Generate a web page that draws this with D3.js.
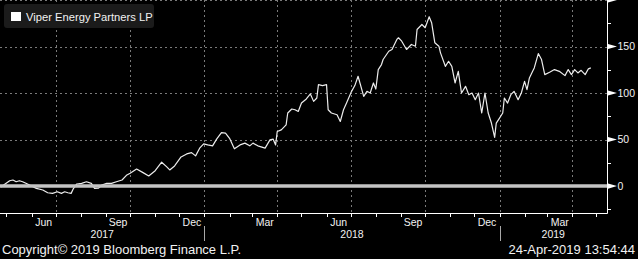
<!DOCTYPE html>
<html>
<head>
<meta charset="utf-8">
<script src="https://cdn.jsdelivr.net/npm/d3@7"></script>
<style>
html,body{margin:0;padding:0;background:#000;}
svg{display:block;}
text{font-family:"Liberation Sans",Arial,sans-serif;fill:#f2f2f2;}
</style>
</head>
<body>
<svg id="chart" width="638" height="259"></svg>
<script>
// ---- data ----
const seriesName = "Viper Energy Partners LP";
const dates2017 = ["2017-04-24","2017-05-05","2017-05-09","2017-05-13","2017-05-17","2017-05-21","2017-05-25","2017-06-07","2017-06-15","2017-06-21","2017-06-27","2017-07-03","2017-07-08","2017-07-12","2017-07-16","2017-07-20","2017-07-23","2017-07-27","2017-08-02","2017-08-08","2017-08-14","2017-08-18","2017-08-23","2017-08-27","2017-09-02","2017-09-08","2017-09-14","2017-09-21","2017-09-27","2017-10-01","2017-10-09","2017-10-17","2017-10-24","2017-11-01","2017-11-09","2017-11-15","2017-11-19","2017-11-25","2017-12-03","2017-12-10","2017-12-16","2017-12-21","2017-12-26","2017-12-31"];
const values2017 = [-1,5.7,6.5,4.6,5.7,4.6,2.9,-2.5,-4.3,-7.2,-7.9,-6.2,-7.9,-6.2,-7.2,-7.9,-2.5,2.2,2.9,4.6,2.9,-2.5,-2.2,1.1,2.9,2.9,4.6,6.5,11.9,13.7,18.3,14.4,10.8,16.5,25.6,20.8,17.3,21.6,31.3,34.5,35.9,32.4,40.7,45.3];
const dates2018 = ["2018-01-05","2018-01-11","2018-01-16","2018-01-22","2018-01-27","2018-02-01","2018-02-07","2018-02-14","2018-02-20","2018-02-26","2018-03-02","2018-03-08","2018-03-17","2018-03-23","2018-03-27","2018-03-30","2018-04-01","2018-04-06","2018-04-12","2018-04-14","2018-04-19","2018-04-23","2018-04-27","2018-05-01","2018-05-07","2018-05-12","2018-05-16","2018-05-20","2018-05-22","2018-05-27","2018-06-01","2018-06-03","2018-06-07","2018-06-14","2018-06-18","2018-06-22","2018-06-26","2018-07-02","2018-07-06","2018-07-10","2018-07-17","2018-07-21","2018-07-25","2018-07-29","2018-08-01","2018-08-04","2018-08-08","2018-08-10","2018-08-17","2018-08-21","2018-08-27","2018-08-29","2018-09-02","2018-09-08","2018-09-14","2018-09-19","2018-09-21","2018-09-27","2018-10-01","2018-10-06","2018-10-09","2018-10-13","2018-10-18","2018-10-20","2018-10-26","2018-10-30","2018-11-03","2018-11-07","2018-11-11","2018-11-15","2018-11-20","2018-11-24","2018-11-28","2018-12-02","2018-12-06","2018-12-10","2018-12-14","2018-12-18","2018-12-22","2018-12-26","2018-12-28"];
const values2018 = [44.2,43.2,50.4,57.5,56.9,51.3,40,44.2,46.1,43.2,46.1,43.2,40.7,49.6,50.4,44.2,58.6,60.4,65.8,78.5,82.8,82,80.2,89.2,93.6,99,91,94.6,109,108,109,82,78.5,76.6,69.4,82,89.9,101.8,108,118,96.4,101.8,100,110.8,104.3,125.2,130.6,136,144.9,146.8,157.6,159.4,155.7,146.8,152.2,150.3,168.3,173.7,170.2,182,175.6,154,150.3,143.2,128.7,134.1,128.7,110.8,123.3,100,107.2,98.2,100,92.8,100,78.5,100,78.5,67.7,52.3,67.7];
const dates2019 = ["2019-01-01","2019-01-05","2019-01-07","2019-01-11","2019-01-15","2019-01-19","2019-01-24","2019-01-28","2019-02-01","2019-02-04","2019-02-07","2019-02-11","2019-02-13","2019-02-18","2019-02-22","2019-02-26","2019-03-04","2019-03-10","2019-03-16","2019-03-23","2019-03-27","2019-03-31","2019-04-04","2019-04-08","2019-04-12","2019-04-17","2019-04-21","2019-04-24"];
const values2019 = [73,78.5,94.6,89.2,98.2,101.8,92.8,100,112.5,103.6,116.2,123.3,127,142.4,136,119.8,122.3,125.2,123.3,118.7,125.2,119.8,125.2,121.6,124.4,119.8,126,127];

const yMajorTicks = [0, 50, 100, 150, 200];
const yLabelTicks = [0, 50, 100, 150];
const yMinorTicks = [-25, 25, 75, 125, 175];
const labelMonths = ["2017-06","2017-09","2017-12","2018-03","2018-06","2018-09","2018-12","2019-03"];
const yearLabels = ["2017","2018","2019"];
const xDomain = ["2017-04-23","2019-05-14"];
const yDomain = [-29, 200];
const copyright = "Copyright\u00A9 2019 Bloomberg Finance L.P.";
const stamp = "24-Apr-2019 13:54:44";

// ---- build ----
const parse = d3.timeParse("%Y-%m-%d");
const parseM = d3.timeParse("%Y-%m");
const data = [];
[[dates2017, values2017],[dates2018, values2018],[dates2019, values2019]].forEach(([ds, vs]) => {
  ds.forEach((d, i) => data.push({date: parse(d), value: vs[i]}));
});

const svg = d3.select("#chart");
const W = 638, H = 259;
const plot = {left: 0, right: 607, top: 0, bottom: 213};

svg.append("rect").attr("width", W).attr("height", H).attr("fill", "#000");

const x = d3.scaleTime().domain(xDomain.map(parse)).range([plot.left, plot.right]);
const y = d3.scaleLinear().domain(yDomain).range([plot.bottom, plot.top]);

// gridlines
const grid = svg.append("g").attr("stroke", "#7a7a7a").attr("stroke-width", 1).attr("stroke-dasharray", "2,3");
yMajorTicks.filter(v => v !== 0).forEach(v => {
  const yy = Math.round(y(v)) + 0.5;
  grid.append("line").attr("x1", plot.left).attr("x2", plot.right).attr("y1", yy).attr("y2", yy);
});
const quarterStarts = d3.timeMonth.every(3).range(x.domain()[0], x.domain()[1]);
quarterStarts.forEach(d => {
  const xx = Math.round(x(d)) + 0.5;
  grid.append("line").attr("x1", xx).attr("x2", xx).attr("y1", plot.top).attr("y2", plot.bottom);
});

// series line
const line = d3.line().x(d => x(d.date)).y(d => y(d.value));
svg.append("path").datum(data)
  .attr("fill", "none").attr("stroke", "#ececec").attr("stroke-width", 1.2)
  .attr("stroke-linejoin", "round").attr("d", line);

// zero line
svg.append("line").attr("x1", plot.left).attr("x2", plot.right)
  .attr("y1", y(0)).attr("y2", y(0)).attr("stroke", "#c4c4c4").attr("stroke-width", 3.5);

// axes lines
svg.append("line").attr("x1", plot.left).attr("x2", plot.right + 0.5)
  .attr("y1", plot.bottom + 0.5).attr("y2", plot.bottom + 0.5).attr("stroke", "#fff");
svg.append("line").attr("x1", plot.right + 0.5).attr("x2", plot.right + 0.5)
  .attr("y1", plot.top).attr("y2", plot.bottom + 0.5).attr("stroke", "#fff");

// month ticks
const monthStarts = d3.timeMonth.range(x.domain()[0], x.domain()[1]);
monthStarts.forEach(d => {
  const xx = Math.round(x(d)) + 0.5;
  svg.append("line").attr("x1", xx).attr("x2", xx).attr("y1", plot.bottom).attr("y2", plot.bottom + 4)
    .attr("stroke", "#fff");
});

// month labels
const fmtMonth = d3.timeFormat("%b");
labelMonths.forEach(m => {
  const s = parseM(m), e = d3.timeMonth.offset(s, 1);
  svg.append("text").attr("x", (x(s) + x(e)) / 2).attr("y", 225.5)
    .attr("text-anchor", "middle").attr("font-size", "10.5px").text(fmtMonth(s));
});

// year labels and separators
yearLabels.forEach(yr => {
  const s = parse(yr + "-01-01"), e = parse((+yr + 1) + "-01-01");
  const xs = Math.max(x(s), plot.left), xe = Math.min(x(e), plot.right);
  svg.append("text").attr("x", (xs + xe) / 2).attr("y", 237.5)
    .attr("text-anchor", "middle").attr("font-size", "10.5px").text(yr);
  if (x(s) > plot.left) {
    const xx = Math.round(x(s)) + 0.5;
    svg.append("line").attr("x1", xx).attr("x2", xx).attr("y1", 226).attr("y2", 241)
      .attr("stroke", "#a8a8a8");
  }
});

// right axis: major triangles
yMajorTicks.forEach(v => {
  const yy = y(v);
  svg.append("path")
    .attr("d", `M${plot.right + 1},${yy - 2.6}L${plot.right + 10},${yy}L${plot.right + 1},${yy + 2.6}Z`)
    .attr("fill", "#fff");
});
yMinorTicks.forEach(v => {
  const yy = Math.round(y(v)) + 0.5;
  svg.append("line").attr("x1", plot.right).attr("x2", plot.right + 4).attr("y1", yy).attr("y2", yy)
    .attr("stroke", "#fff");
});
yLabelTicks.forEach(v => {
  svg.append("text").attr("x", plot.right + 10.5).attr("y", y(v) + 3.8)
    .attr("font-size", "10.5px").text(d3.format("d")(v));
});

// legend
const lg = svg.append("g");
lg.append("rect").attr("x", 4).attr("y", 4).attr("width", 150).attr("height", 24).attr("rx", 3)
  .attr("fill", "#1b1b1b");
lg.append("rect").attr("x", 11).attr("y", 12).attr("width", 10).attr("height", 9).attr("fill", "#fff");
lg.append("text").attr("x", 26).attr("y", 20.5).attr("font-size", "11.2px").text(seriesName);

// footer
svg.append("text").attr("x", 2).attr("y", 254).attr("font-size", "13px").text(copyright);
svg.append("text").attr("x", 635).attr("y", 254).attr("text-anchor", "end").attr("font-size", "13px").text(stamp);
</script>
</body>
</html>
